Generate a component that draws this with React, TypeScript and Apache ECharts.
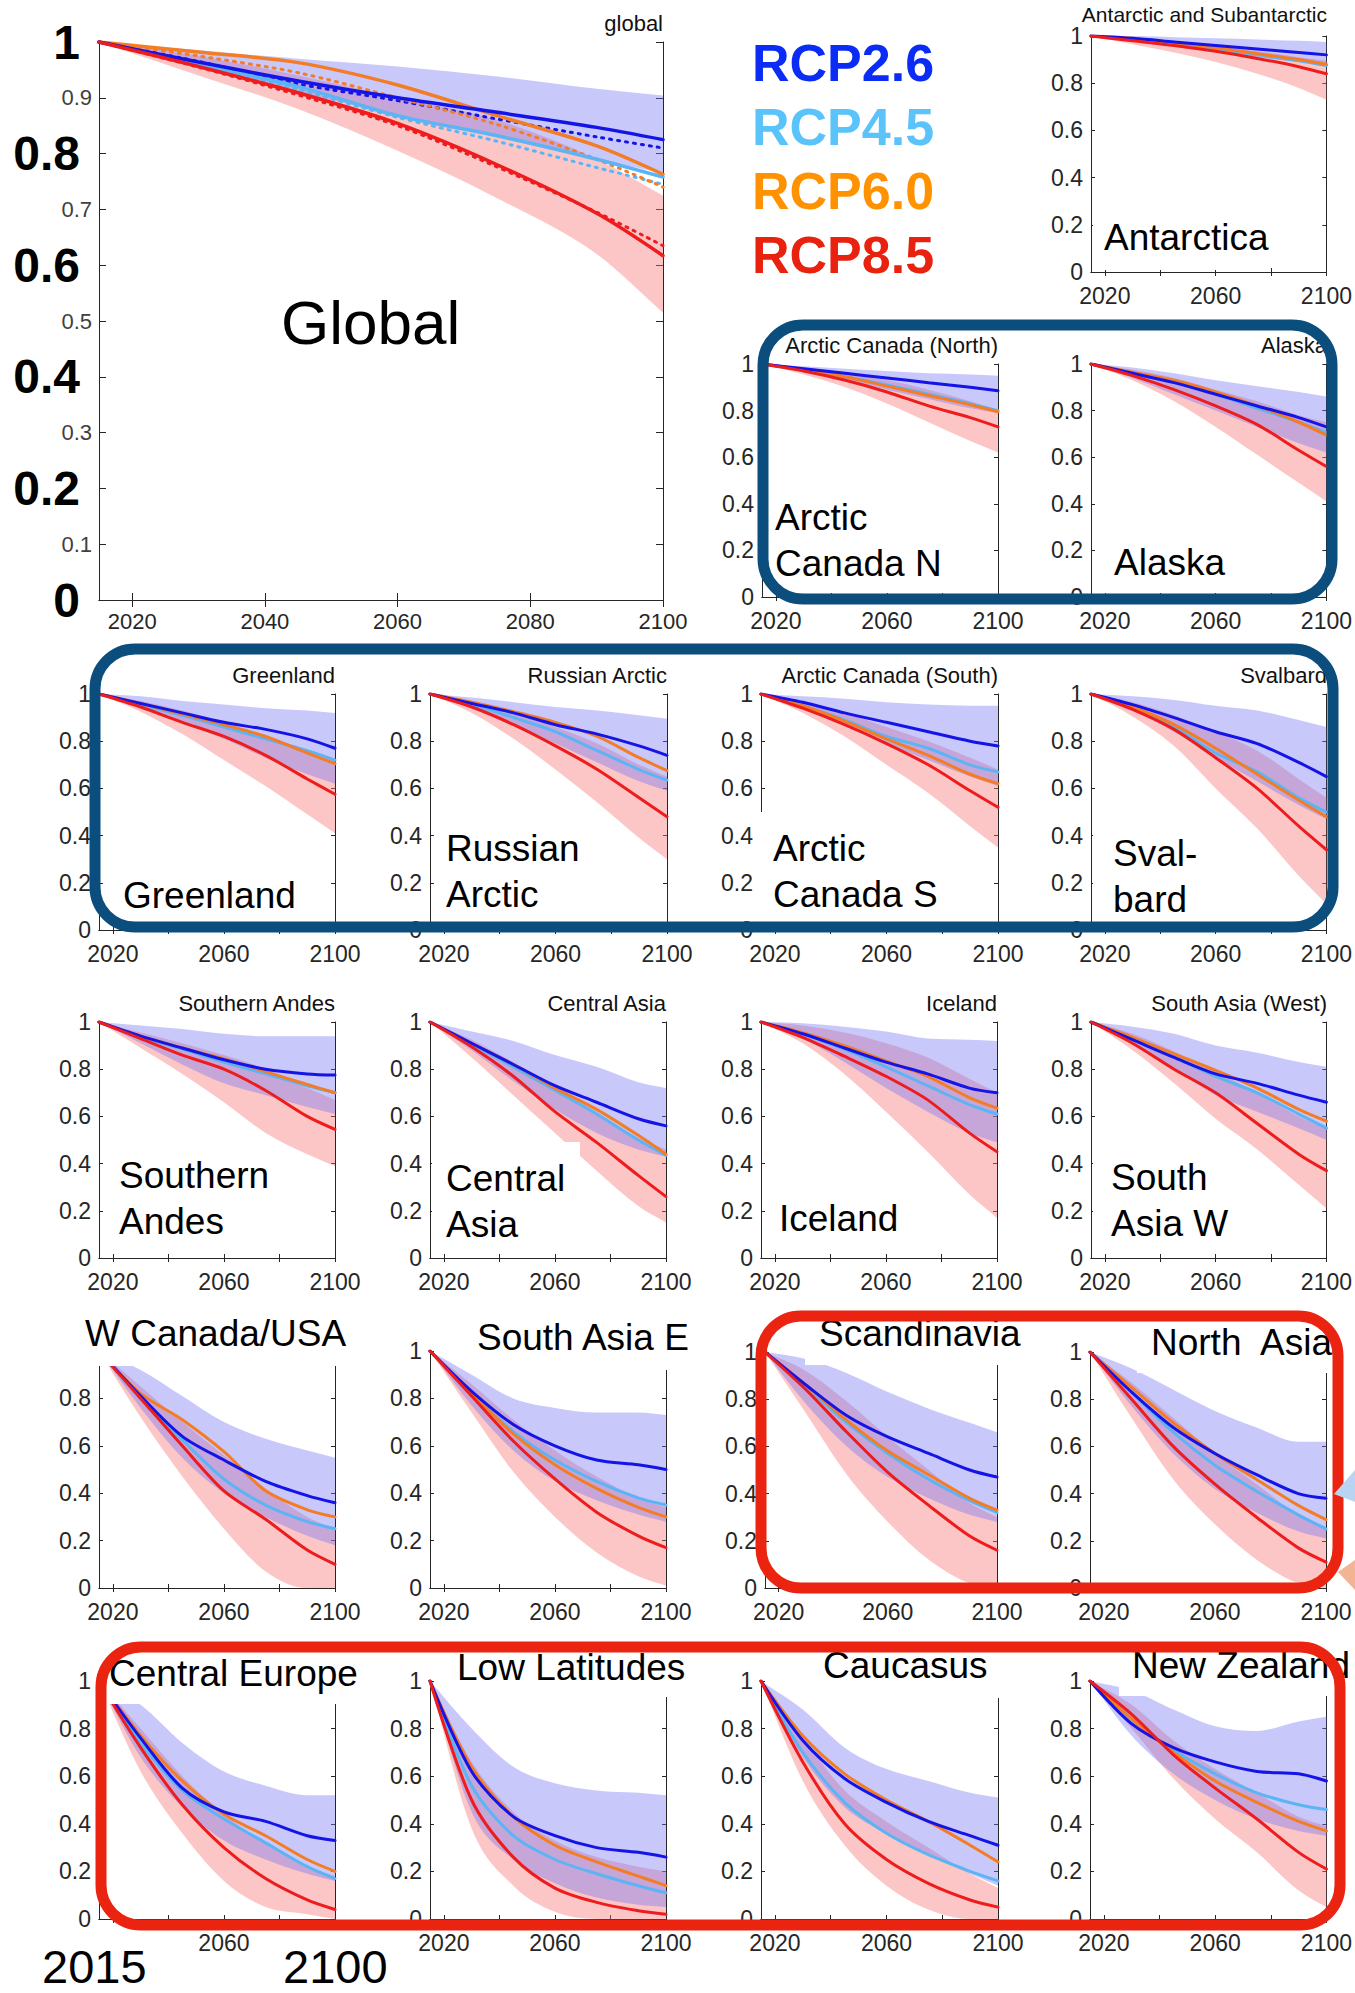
import React, { useEffect, useRef } from "react";
import * as echarts from "echarts";

// ---------------- DATA ----------------
const years = [2015, 2030, 2045, 2060, 2075, 2090, 2100];

const panelTitles = [
  "global", "Antarctic and Subantarctic", "Arctic Canada (North)", "Alaska",
  "Greenland", "Russian Arctic", "Arctic Canada (South)", "Svalbard",
  "Southern Andes", "Central Asia", "Iceland", "South Asia (West)",
  "", "", "", "", "", "", "", "",
];

const regionLabels = [
  "Global", "Antarctica", "Arctic\nCanada N", "Alaska",
  "Greenland", "Russian\nArctic", "Arctic\nCanada S", "Sval-\nbard",
  "Southern\nAndes", "Central\nAsia", "Iceland", "South\nAsia W",
  "W Canada/USA", "South Asia E", "Scandinavia", "North  Asia",
  "Central Europe", "Low Latitudes", "Caucasus", "New Zealand",
];

// medians (solid lines)
const rcp26 = [
  [1, .964, .93, .90, .874, .847, .825],
  [1, .99, .975, .96, .945, .93, .92],
  [1, .98, .96, .94, .92, .90, .885],
  [1, .96, .92, .87, .82, .77, .73],
  [1, .96, .92, .88, .85, .81, .77],
  [1, .96, .92, .87, .83, .78, .74],
  [1, .965, .92, .88, .84, .80, .78],
  [1, .955, .90, .84, .79, .71, .65],
  [1, .94, .89, .84, .80, .78, .775],
  [1, .91, .82, .73, .66, .59, .56],
  [1, .95, .89, .83, .78, .72, .70],
  [1, .925, .85, .78, .74, .69, .66],
  [1, .81, .64, .54, .45, .39, .36],
  [1, .83, .69, .60, .54, .52, .50],
  [1, .86, .73, .64, .57, .50, .47],
  [1, .83, .68, .57, .48, .40, .38],
  [1, .76, .55, .45, .41, .35, .33],
  [1, .62, .43, .35, .30, .28, .26],
  [1, .75, .59, .49, .41, .35, .31],
  [1, .82, .72, .66, .62, .61, .58],
];
const rcp45 = [
  [1, .96, .92, .868, .832, .79, .758],
  [1, .985, .965, .945, .92, .895, .875],
  [1, .975, .945, .91, .87, .83, .80],
  [1, .96, .92, .87, .81, .75, .705],
  [1, .955, .91, .86, .81, .76, .72],
  [1, .955, .90, .84, .76, .68, .635],
  [1, .95, .89, .82, .77, .70, .67],
  [1, .94, .86, .75, .67, .56, .50],
  [1, .935, .885, .83, .78, .73, .70],
  [1, .905, .81, .71, .61, .50, .435],
  [1, .95, .885, .81, .73, .65, .61],
  [1, .925, .85, .77, .70, .61, .55],
  [1, .80, .625, .46, .35, .28, .25],
  [1, .82, .66, .54, .45, .38, .35],
  [1, .85, .70, .57, .46, .37, .32],
  [1, .83, .66, .52, .41, .31, .25],
  [1, .74, .54, .42, .32, .22, .17],
  [1, .56, .35, .25, .19, .14, .11],
  [1, .70, .49, .36, .27, .20, .16],
  [1, .84, .71, .61, .53, .48, .46],
];
const rcp60 = [
  [1, .982, .963, .923, .868, .814, .763],
  [1, .99, .97, .95, .925, .90, .88],
  [1, .975, .945, .905, .865, .825, .795],
  [1, .965, .93, .88, .82, .75, .695],
  [1, .96, .915, .87, .82, .75, .705],
  [1, .965, .925, .88, .82, .73, .675],
  [1, .95, .885, .81, .74, .66, .62],
  [1, .945, .87, .77, .66, .55, .48],
  [1, .94, .89, .845, .79, .735, .70],
  [1, .91, .82, .72, .63, .52, .44],
  [1, .955, .90, .835, .77, .68, .635],
  [1, .935, .865, .795, .72, .63, .58],
  [1, .82, .71, .575, .41, .33, .30],
  [1, .82, .65, .52, .42, .34, .30],
  [1, .86, .71, .58, .48, .38, .33],
  [1, .85, .70, .57, .46, .35, .29],
  [1, .77, .58, .44, .35, .25, .20],
  [1, .64, .43, .31, .24, .18, .14],
  [1, .77, .61, .50, .41, .31, .24],
  [1, .84, .70, .58, .49, .41, .37],
];
const rcp85 = [
  [1, .956, .909, .854, .78, .693, .617],
  [1, .98, .96, .935, .905, .87, .84],
  [1, .97, .93, .88, .82, .77, .73],
  [1, .95, .89, .82, .74, .63, .56],
  [1, .945, .88, .82, .74, .64, .575],
  [1, .945, .87, .78, .68, .56, .48],
  [1, .94, .87, .79, .70, .59, .52],
  [1, .935, .85, .73, .60, .44, .34],
  [1, .93, .86, .80, .71, .60, .545],
  [1, .895, .77, .62, .49, .35, .26],
  [1, .935, .855, .77, .67, .53, .45],
  [1, .91, .80, .70, .57, .44, .37],
  [1, .80, .60, .41, .29, .16, .10],
  [1, .81, .62, .46, .32, .22, .17],
  [1, .84, .66, .49, .35, .22, .16],
  [1, .80, .60, .44, .30, .17, .11],
  [1, .72, .48, .30, .17, .08, .04],
  [1, .50, .26, .13, .07, .035, .02],
  [1, .66, .40, .25, .15, .08, .05],
  [1, .86, .69, .55, .42, .28, .21],
];
// uncertainty bands
const band26High = [
  [1, .985, .97, .956, .938, .916, .904],
  [1, 1, .995, .99, .985, .98, .975],
  [1, .99, .98, .97, .96, .955, .95],
  [1, .985, .96, .93, .905, .88, .86],
  [1, .99, .97, .955, .94, .93, .92],
  [1, .985, .965, .945, .93, .91, .895],
  [1, .99, .98, .965, .955, .95, .95],
  [1, .99, .975, .95, .93, .89, .86],
  [1, .985, .97, .95, .94, .94, .94],
  [1, .96, .92, .86, .81, .745, .72],
  [1, .995, .98, .96, .93, .925, .92],
  [1, .98, .95, .90, .87, .83, .81],
  [1, .92, .81, .70, .63, .58, .55],
  [1, .90, .80, .76, .74, .74, .73],
  [1, .97, .91, .83, .76, .70, .66],
  [1, .93, .84, .75, .68, .62, .62],
  [1, .90, .74, .62, .56, .52, .52],
  [1, .80, .64, .57, .54, .53, .52],
  [1, .88, .72, .63, .58, .53, .51],
  [1, .96, .88, .81, .79, .83, .85],
];
const band26Low = [
  [1, .955, .91, .87, .83, .79, .765],
  [1, .985, .96, .94, .91, .89, .875],
  [1, .965, .93, .89, .85, .81, .79],
  [1, .94, .87, .80, .73, .66, .62],
  [1, .945, .88, .81, .73, .66, .62],
  [1, .94, .87, .79, .71, .63, .59],
  [1, .945, .87, .79, .72, .65, .61],
  [1, .93, .84, .73, .63, .53, .47],
  [1, .91, .82, .74, .69, .64, .61],
  [1, .88, .75, .63, .53, .46, .43],
  [1, .93, .83, .72, .62, .53, .49],
  [1, .905, .80, .69, .62, .55, .50],
  [1, .76, .55, .40, .30, .22, .18],
  [1, .77, .58, .45, .37, .31, .28],
  [1, .78, .60, .47, .38, .31, .28],
  [1, .77, .57, .42, .32, .24, .21],
  [1, .68, .47, .33, .25, .19, .16],
  [1, .45, .25, .15, .09, .06, .05],
  [1, .68, .47, .36, .27, .19, .14],
  [1, .77, .61, .50, .42, .37, .35],
];
const band85High = [
  [1, .975, .94, .90, .86, .79, .725],
  [1, .99, .975, .955, .935, .91, .895],
  [1, .985, .96, .93, .89, .84, .80],
  [1, .975, .94, .89, .84, .78, .75],
  [1, .97, .93, .88, .82, .75, .72],
  [1, .97, .92, .86, .79, .70, .65],
  [1, .965, .92, .86, .80, .73, .68],
  [1, .965, .91, .84, .76, .64, .56],
  [1, .955, .91, .86, .80, .72, .67],
  [1, .925, .83, .73, .62, .51, .46],
  [1, .985, .955, .91, .85, .76, .70],
  [1, .95, .875, .79, .70, .60, .55],
  [1, .85, .70, .56, .42, .30, .25],
  [1, .86, .71, .58, .47, .38, .34],
  [1, .92, .79, .64, .50, .36, .30],
  [1, .87, .72, .57, .44, .31, .26],
  [1, .80, .60, .44, .32, .22, .18],
  [1, .66, .45, .33, .26, .22, .20],
  [1, .76, .54, .41, .30, .19, .13],
  [1, .90, .75, .63, .53, .43, .39],
];
const band85Low = [
  [1, .94, .88, .805, .72, .62, .515],
  [1, .965, .93, .89, .84, .78, .73],
  [1, .955, .90, .83, .75, .67, .62],
  [1, .93, .84, .73, .61, .49, .41],
  [1, .925, .83, .72, .61, .49, .41],
  [1, .92, .81, .68, .54, .39, .30],
  [1, .92, .82, .70, .58, .44, .35],
  [1, .905, .78, .60, .43, .23, .11],
  [1, .89, .78, .66, .53, .44, .39],
  [1, .85, .69, .53, .37, .22, .15],
  [1, .91, .78, .62, .45, .27, .17],
  [1, .88, .74, .59, .46, .31, .21],
  [1, .72, .47, .25, .07, 0, 0],
  [1, .74, .49, .30, .15, .05, .01],
  [1, .74, .48, .28, .12, .02, 0],
  [1, .72, .46, .27, .12, .02, 0],
  [1, .62, .36, .16, .05, .02, 0],
  [1, .38, .14, .03, 0, 0, 0],
  [1, .58, .31, .14, .04, 0, 0],
  [1, .80, .59, .42, .28, .12, .05],
];
// global panel dotted lines
const dotted26 = [1, .965, .925, .895, .862, .83, .81];
const dotted45 = [1, .96, .915, .865, .822, .775, .745];
const dotted60 = [1, .975, .945, .90, .852, .79, .74];
const dotted85 = [1, .955, .905, .85, .776, .695, .635];

const xTickValues = [2020, 2040, 2060, 2080, 2100];
const xLabelsGlobal = [2020, 2040, 2060, 2080, 2100];
const xLabelsSmall = [2020, 2060, 2100];
const xLabelsCentralEurope = [2060];
const legendNames = ["RCP2.6", "RCP4.5", "RCP6.0", "RCP8.5"];
const bigYearLabels = ["2015", "2100"];

// ---------------- LAYOUT / STYLE ----------------
const FONT = "'Liberation Sans', Arial, Helvetica, sans-serif";
const AX = "#262626";
const C26 = "#1414e6";
const C45 = "#5cb4f4";
const C60 = "#f47c24";
const C85 = "#ee1c1c";
const BLUE_BAND = "rgba(118,118,245,0.40)";
const RED_BAND = "rgba(248,118,118,0.42)";
const LEGEND_COLORS = ["#0a2cf5", "#5ac4fa", "#ff9200", "#e8220e"];
const BOX_BLUE = "#0b4d7c";
const BOX_RED = "#ea2410";

const panelBoxes = [
  [99, 42, 564, 558],
  [1091, 36, 236, 236],
  [762, 364, 236, 233], [1091, 364, 236, 233],
  [99, 694, 236, 236], [430, 694, 237, 236], [761, 694, 237, 236], [1091, 694, 236, 236],
  [99, 1022, 236, 236], [430, 1022, 236, 236], [761, 1022, 236, 236], [1091, 1022, 236, 236],
  [99, 1351, 236, 237], [430, 1351, 236, 237], [765, 1352, 232, 236], [1090, 1352, 236, 236],
  [99, 1681, 236, 238], [430, 1681, 236, 238], [761, 1681, 237, 238], [1090, 1681, 237, 238],
];
const labelPos = [
  [281, 322], [1104, 237], [775, 517], [1114, 562],
  [123, 895], [446, 848], [773, 848], [1113, 853],
  [119, 1175], [446, 1178], [779, 1218], [1111, 1177],
  [85, 1333], [477, 1337], [819, 1333], [1151, 1342],
  [109, 1673], [457, 1667], [823, 1665], [1132, 1665],
];
const whitePatches = [
  [1093, 202, 150, 68],
  [756, 812, 194, 118],
  [432, 1142, 148, 112],
  [1093, 1142, 149, 112],
  [1093, 815, 129, 110],
  [66, 1308, 279, 58],
  [464, 1310, 236, 60],
  [805, 1312, 217, 53],
  [1137, 1312, 210, 61],
  [104, 1645, 240, 59],
  [444, 1640, 256, 57],
  [810, 1640, 200, 58],
  [1119, 1640, 215, 56],
];
const roundBoxes = [
  [763, 325, 569, 274, BOX_BLUE],
  [95, 649, 1238, 278, BOX_BLUE],
  [761, 1316, 577, 272, BOX_RED],
  [101, 1647, 1239, 278, BOX_RED],
];

const SM = 0.3;

function fmtTenth(v: number) {
  const k = Math.round(v * 10);
  if (k === 10) return "1";
  if (k === 0) return "0";
  return "0." + k;
}

// monotone cubic bezier segments through pixel points (x increasing)
function monoSegments(p: number[][]) {
  const n = p.length;
  const s: number[] = [];
  for (let i = 0; i < n - 1; i++) {
    const dx = p[i + 1][0] - p[i][0];
    s.push(dx === 0 ? 0 : (p[i + 1][1] - p[i][1]) / dx);
  }
  const t: number[] = [s[0]];
  for (let i = 1; i < n - 1; i++) {
    t.push(s[i - 1] * s[i] <= 0 ? 0 : (s[i - 1] + s[i]) / 2);
  }
  t.push(s[n - 2]);
  for (let i = 0; i < n - 1; i++) {
    if (s[i] === 0) { t[i] = 0; t[i + 1] = 0; continue; }
    const a = t[i] / s[i], b = t[i + 1] / s[i];
    const h = a * a + b * b;
    if (h > 9) { const k = 3 / Math.sqrt(h); t[i] = k * a * s[i]; t[i + 1] = k * b * s[i]; }
  }
  const segs: number[][][] = [];
  for (let i = 0; i < n - 1; i++) {
    const dx = p[i + 1][0] - p[i][0];
    const c1 = [p[i][0] + dx / 3, p[i][1] + (t[i] * dx) / 3];
    const c2 = [p[i + 1][0] - dx / 3, p[i + 1][1] - (t[i + 1] * dx) / 3];
    segs.push([p[i], c1, c2, p[i + 1]]);
  }
  return segs;
}

function bandPath(up: number[][], lo: number[][]) {
  const f = (a: number[]) => a[0].toFixed(2) + " " + a[1].toFixed(2);
  let d = "M" + f(up[0]);
  monoSegments(up).forEach((g) => { d += " C" + f(g[1]) + " " + f(g[2]) + " " + f(g[3]); });
  d += " L" + f(lo[lo.length - 1]);
  const ls = monoSegments(lo);
  for (let i = ls.length - 1; i >= 0; i--) {
    const g = ls[i];
    d += " C" + f(g[2]) + " " + f(g[1]) + " " + f(g[0]);
  }
  return d + " Z";
}

function buildOption() {
  const grid: any[] = [];
  const xAxis: any[] = [];
  const yAxis: any[] = [];
  const series: any[] = [];

  panelBoxes.forEach((b, i) => {
    const isG = i === 0;
    grid.push({ left: b[0], top: b[1], width: b[2], height: b[3], containLabel: false });
    const axisLine = { show: true, lineStyle: { color: AX, width: 1 } };
    const tickLen = isG ? 7 : 4;
    const tick = { show: true, inside: true, length: tickLen, lineStyle: { color: AX } };
    const xLabels = isG ? xLabelsGlobal : i === 16 ? xLabelsCentralEurope : xLabelsSmall;
    xAxis.push({
      gridIndex: i, type: "value", min: 2015, max: 2100, position: "bottom",
      axisLine, splitLine: { show: false },
      axisTick: { ...tick, customValues: xTickValues },
      axisLabel: {
        show: true, customValues: xLabels, fontSize: isG ? 22 : 23, color: AX,
        margin: isG ? 10 : 12, fontFamily: FONT, formatter: (v: number) => String(Math.round(v)),
      },
    });
    xAxis.push({
      gridIndex: i, type: "value", min: 2015, max: 2100, position: "top",
      axisLine, splitLine: { show: false },
      axisTick: { ...tick, customValues: xTickValues },
      axisLabel: { show: false },
    });
    if (isG) {
      yAxis.push({
        gridIndex: i, type: "value", min: 0, max: 1, interval: 0.1, position: "left",
        axisLine, splitLine: { show: false }, axisTick: tick,
        axisLabel: {
          margin: 7,
          formatter: (v: number) => {
            const k = Math.round(v * 10);
            const t = fmtTenth(v);
            return k % 2 === 0 ? `{b|${t}}` : `{s|${t}}`;
          },
          rich: {
            b: { fontSize: 48, fontWeight: "bold", color: "#000", fontFamily: FONT, padding: [0, 12, 0, 0] },
            s: { fontSize: 22, color: "#404040", fontFamily: FONT },
          },
        },
      });
      yAxis.push({
        gridIndex: i, type: "value", min: 0, max: 1, interval: 0.1, position: "right",
        axisLine, splitLine: { show: false }, axisTick: tick, axisLabel: { show: false },
      });
    } else {
      yAxis.push({
        gridIndex: i, type: "value", min: 0, max: 1, interval: 0.2, position: "left",
        axisLine, splitLine: { show: false }, axisTick: tick,
        axisLabel: {
          margin: 8, fontSize: 23, color: AX, fontFamily: FONT, formatter: fmtTenth,
          showMaxLabel: i !== 12,
        },
      });
      yAxis.push({
        gridIndex: i, type: "value", min: 0, max: 1, interval: 0.2, position: "right",
        axisLine, splitLine: { show: false }, axisTick: tick, axisLabel: { show: false },
      });
    }

    const ax = { xAxisIndex: 2 * i, yAxisIndex: 2 * i };
    const band = (low: number[], high: number[], color: string) => ({
      type: "custom", ...ax, data: [[years[0], high[0]]], silent: true, z: 1, clip: true,
      renderItem: (_params: any, api: any) => {
        const up = years.map((y, k) => api.coord([y, high[k]]));
        const lo = years.map((y, k) => api.coord([y, low[k]]));
        return { type: "path", shape: { pathData: bandPath(up, lo) }, style: { fill: color, stroke: null } };
      },
    });
    series.push(band(band85Low[i], band85High[i], RED_BAND));
    series.push(band(band26Low[i], band26High[i], BLUE_BAND));

    const lw = isG ? 3.5 : 3;
    const line = (vals: number[], color: string, dotted = false) => ({
      type: "line", ...ax, data: years.map((y, k) => [y, vals[k]]), symbol: "none",
      smooth: SM, silent: true, z: 3,
      lineStyle: { color, width: dotted ? 3 : lw, type: dotted ? [2, 6] : "solid", cap: "round" },
    });
    if (isG) {
      series.push(line(dotted26, C26, true));
      series.push(line(dotted45, C45, true));
      series.push(line(dotted60, C60, true));
      series.push(line(dotted85, C85, true));
    }
    series.push(line(rcp45[i], C45));
    series.push(line(rcp60[i], C60));
    series.push(line(rcp26[i], C26));
    series.push(line(rcp85[i], C85));
  });

  const elements: any[] = [];
  whitePatches.forEach((p) => {
    elements.push({
      type: "rect", z: 100, silent: true,
      shape: { x: p[0], y: p[1], width: p[2], height: p[3] },
      style: { fill: "#ffffff", stroke: null },
    });
  });
  const text = (t: string, x: number, y: number, size: number, opts: any = {}) => ({
    type: "text", x, y, z: 101, silent: true,
    style: {
      text: t, fontSize: size, fontFamily: FONT, fontWeight: opts.weight || "normal",
      fill: opts.fill || "#000", align: opts.align || "left", textAlign: opts.align || "left",
      verticalAlign: "middle", textVerticalAlign: "middle",
    },
  });
  panelTitles.forEach((t, i) => {
    if (!t) return;
    const b = panelBoxes[i];
    const dy = i === 1 ? 22 : 19;
    elements.push(text(t, b[0] + b[2], b[1] - dy, i === 1 ? 21 : 22, { align: "right", fill: "#111" }));
  });
  regionLabels.forEach((t, i) => {
    const size = i === 0 ? 62 : 37;
    t.split("\n").forEach((part, j) => {
      elements.push(text(part, labelPos[i][0], labelPos[i][1] + j * 46, size));
    });
  });
  legendNames.forEach((t, i) => {
    elements.push(text(t, 752, 63 + i * 64, 52, { weight: "bold", fill: LEGEND_COLORS[i] }));
  });
  elements.push(text(bigYearLabels[0], 42, 1966, 47));
  elements.push(text(bigYearLabels[1], 283, 1966, 47));
  roundBoxes.forEach((r) => {
    elements.push({
      type: "rect", z: 102, silent: true,
      shape: { x: r[0] as number, y: r[1] as number, width: r[2] as number, height: r[3] as number, r: 40 },
      style: { fill: "none", stroke: r[4] as string, lineWidth: 11 },
    });
  });
  elements.push({
    type: "polygon", z: 102, silent: true,
    shape: { points: [[1334, 1494], [1355, 1470], [1355, 1502]] },
    style: { fill: "#b9d3f2" },
  });
  elements.push({
    type: "polygon", z: 102, silent: true,
    shape: { points: [[1338, 1572], [1355, 1560], [1355, 1590]] },
    style: { fill: "#f2b494" },
  });

  return {
    animation: false,
    backgroundColor: "#ffffff",
    textStyle: { fontFamily: FONT },
    grid, xAxis, yAxis, series,
    graphic: { elements },
  };
}

export default function App() {
  const ref = useRef<HTMLDivElement>(null);
  useEffect(() => {
    document.body.style.margin = "0";
    if (!ref.current) return;
    const chart = echarts.init(ref.current, undefined, { renderer: "svg" });
    chart.setOption(buildOption() as any);
    return () => chart.dispose();
  }, []);
  return <div ref={ref} style={{ width: 1355, height: 1993 }} />;
}
